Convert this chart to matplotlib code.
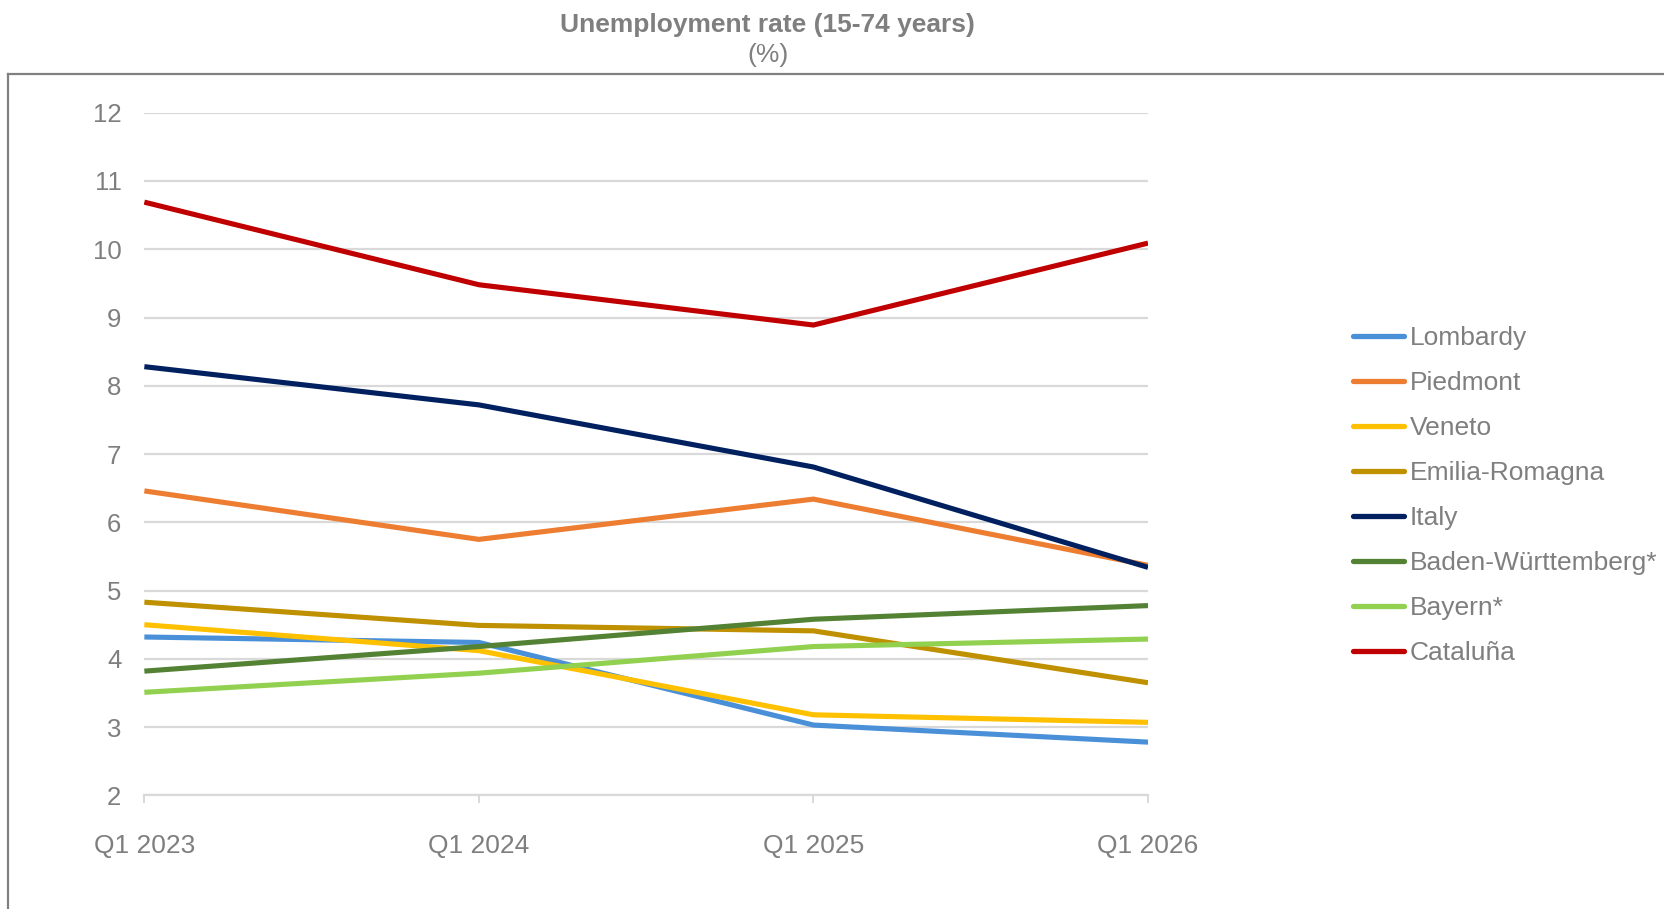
import matplotlib.pyplot as plt
from matplotlib.lines import Line2D

plt.rcParams["font.family"] = ["Liberation Sans", "DejaVu Sans"]

# Quarterly unemployment rate, 15-74 years (%)
quarters = ["Q1 2023", "Q1 2024", "Q1 2025", "Q1 2026"]
lombardy = [4.32, 4.24, 3.03, 2.78]
piedmont = [6.46, 5.75, 6.34, 5.37]
veneto = [4.50, 4.12, 3.18, 3.07]
emilia_romagna = [4.83, 4.49, 4.41, 3.65]
italy = [8.28, 7.72, 6.81, 5.34]
baden_wuerttemberg = [3.82, 4.18, 4.58, 4.78]
bayern = [3.51, 3.79, 4.18, 4.29]
cataluna = [10.69, 9.48, 8.89, 10.09]

series = [
    ("Lombardy", lombardy, "#4A90D9"),
    ("Piedmont", piedmont, "#ED7D31"),
    ("Veneto", veneto, "#FFC000"),
    ("Emilia-Romagna", emilia_romagna, "#BF9000"),
    ("Italy", italy, "#002060"),
    ("Baden-Württemberg*", baden_wuerttemberg, "#548235"),
    ("Bayern*", bayern, "#92D050"),
    ("Cataluña", cataluna, "#C00000"),
]

grey = "#7F7F7F"

fig = plt.figure(figsize=(16.65, 9.09), dpi=100)
ax = fig.add_axes([0.0867, 0.125, 0.6028, 0.751])

x = list(range(len(quarters)))
for name, vals, col in series:
    ax.plot(x, vals, color=col, linewidth=3.7, label=name,
            solid_capstyle="butt", solid_joinstyle="miter")

ax.set_xlim(0, len(quarters) - 1)
ax.set_ylim(2, 12)
ax.set_yticks(range(2, 13))
ax.set_xticks(x)
ax.set_xticklabels(quarters)

ax.grid(axis="y", color="#D9D9D9", linewidth=1.6)
ax.set_axisbelow(True)
for side in ["top", "right", "left"]:
    ax.spines[side].set_visible(False)
ax.spines["bottom"].set_color("#D9D9D9")
ax.spines["bottom"].set_linewidth(1.6)

ax.tick_params(axis="y", length=0, pad=16.5, labelsize=18.5, labelcolor=grey)
ax.tick_params(axis="x", length=6, width=1.4, color="#D9D9D9",
               pad=22, labelsize=19, labelcolor=grey)

# outer frame around the chart area
fig.add_artist(Line2D([0.0051, 0.0051], [0.0, 0.9186], transform=fig.transFigure,
                      color="#808080", linewidth=1.6))
fig.add_artist(Line2D([0.0051, 1.0], [0.9186, 0.9186], transform=fig.transFigure,
                      color="#808080", linewidth=1.6))

fig.text(0.461, 0.973, "Unemployment rate (15-74 years)", ha="center", va="center",
         fontsize=19, fontweight="bold", color=grey)
fig.text(0.461, 0.940, "(%)", ha="center", va="center", fontsize=19, color=grey)

leg = ax.legend(loc="center left", bbox_to_anchor=(0.8129, 0.4545),
                bbox_transform=fig.transFigure, frameon=False, fontsize=19,
                handlelength=1.92, handletextpad=0.21, labelspacing=0.795,
                borderpad=0, borderaxespad=0)
for t in leg.get_texts():
    t.set_color(grey)
for h in leg.get_lines():
    h.set_linewidth(3.8)
    h.set_solid_capstyle("round")

fig.savefig("out.png", dpi=100)
